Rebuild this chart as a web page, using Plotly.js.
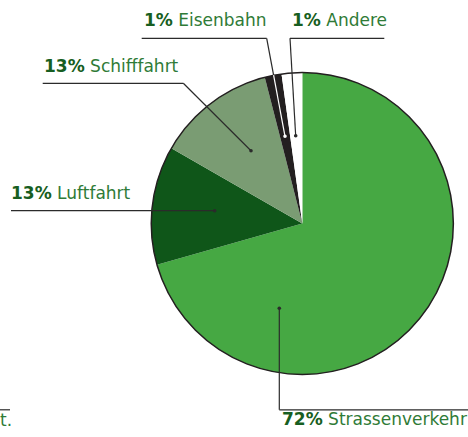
<!DOCTYPE html>
<html>
<head>
<meta charset="utf-8">
<script src="https://cdn.plot.ly/plotly-3.0.1.min.js"></script>
<style>html,body{margin:0;padding:0;background:#fff;}#chart{width:468px;height:437px;}</style>
</head>
<body>
<div id="chart"></div>
<script>
// Data
const categories = ['Strassenverkehr', 'Luftfahrt', 'Schifffahrt', 'Eisenbahn', 'Andere'];
const shares = [70.6, 12.7, 12.7, 1.8, 2.2];          // slice sizes as drawn
const shareLabels = ['72%', '13%', '13%', '1%', '1%']; // printed labels
const sliceColors = ['#46A843', '#0F5619', '#7A9C73', '#231F20', '#FFFFFF'];

const W = 468, H = 437;
const cx = 302.3, cy = 223.5, R = 151;
const px = x => x / W;
const py = y => 1 - y / H;

const domain = {x: [px(cx - R), px(cx + R)], y: [py(cy + R), py(cy - R)]};

const pie = {
  type: 'pie', values: shares, labels: categories, sort: false,
  direction: 'clockwise', rotation: 0, domain: domain,
  marker: {colors: sliceColors, line: {width: 0}},
  textinfo: 'none', hoverinfo: 'none', showlegend: false
};
const outline = {
  type: 'pie', values: [1], labels: ['outline'], sort: false, domain: domain,
  marker: {colors: ['rgba(0,0,0,0)'], line: {color: '#231F20', width: 1.5}},
  textinfo: 'none', hoverinfo: 'none', showlegend: false
};

const pctColor = '#175E21', txtColor = '#2F7B37';
const font = {family: 'DejaVu Sans', size: 17, color: txtColor};
function lbl(i) {
  return '<b><span style="color:' + pctColor + '">' + shareLabels[i] + '</span></b> ' + categories[i];
}
// label placements (pixels): [x, baseline]
const labelPos = [[280, 425], [9.3, 199.3], [41.7, 71.7], [141.7, 26], [290, 26]];
const annotations = labelPos.map((p, i) => ({
  xref: 'paper', yref: 'paper', x: px(p[0]), y: py(p[1] - 6),
  xanchor: 'left', yanchor: 'middle', showarrow: false, text: lbl(i), font: font
}));
annotations.push({xref: 'paper', yref: 'paper', x: px(-2), y: py(426 - 6), xanchor: 'left', yanchor: 'middle',
  showarrow: false, text: 't.', font: font});

const lc = '#2B2B2B';
function seg(x0, y0, x1, y1, color, w) {
  return {type: 'line', xref: 'paper', yref: 'paper', x0: px(x0), y0: py(y0), x1: px(x1), y1: py(y1),
    line: {color: color || lc, width: w || 1.2}};
}
function dot(x, y, color) {
  const r = 1.8;
  return {type: 'circle', xref: 'paper', yref: 'paper', x0: px(x - r), x1: px(x + r), y0: py(y + r), y1: py(y - r),
    fillcolor: color, line: {width: 0}};
}
const shapes = [
  // Strassenverkehr
  seg(279.3, 308.3, 279.3, 409.8), seg(279.3, 409.8, 470, 409.8),
  dot(279.3, 308.3, lc),
  // Luftfahrt
  seg(11, 210.7, 214.7, 210.7), dot(214.7, 210.7, lc),
  // Schifffahrt
  seg(42.7, 83.3, 183.3, 83.3), seg(183.3, 83.3, 251, 150.7), dot(251, 150.7, lc),
  // Eisenbahn
  seg(141.7, 38.3, 266.7, 38.3), seg(266.7, 38.3, 273.6, 75.2), seg(273.6, 75.2, 285, 136.3, '#FFFFFF', 1.2),
  dot(285, 136.3, '#FFFFFF'),
  // Andere
  seg(290, 38.3, 384.3, 38.3), seg(290, 38.3, 295.7, 135.7), dot(295.7, 135.7, lc),
  // cut-off fragment bottom-left
  seg(0, 409.8, 10, 409.8)
];

const layout = {
  width: W, height: H, margin: {l: 0, r: 0, t: 0, b: 0},
  paper_bgcolor: '#fff', plot_bgcolor: '#fff', showlegend: false,
  annotations: annotations, shapes: shapes
};
Plotly.newPlot('chart', [pie, outline], layout, {staticPlot: true, displayModeBar: false});
</script>
</body>
</html>
